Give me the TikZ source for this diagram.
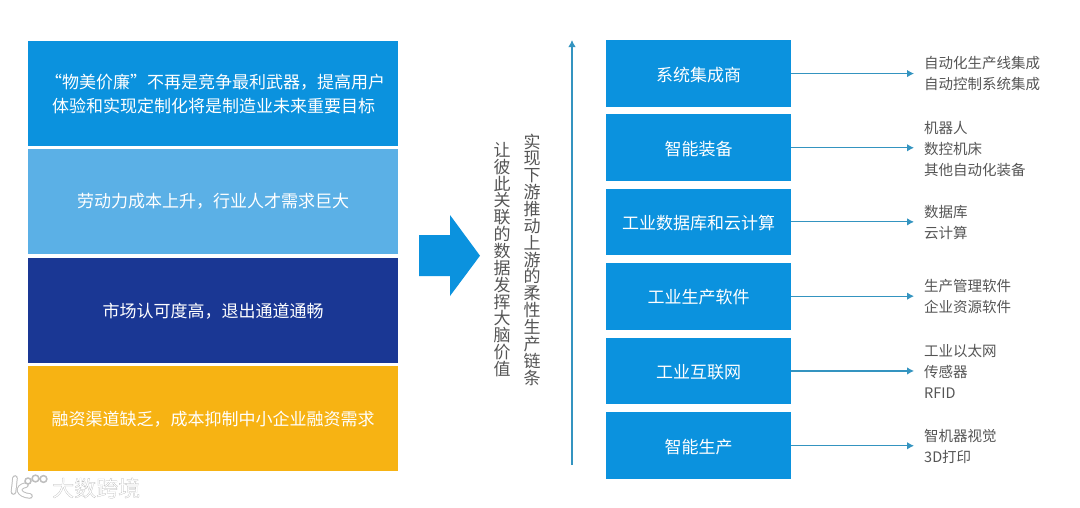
\documentclass[tikz,border=0pt]{standalone}
\usepackage{fontspec}
\usetikzlibrary{arrows.meta}
\setmainfont{Noto Sans CJK SC}
\newfontfamily\wmfont[FakeBold=0.8]{Noto Sans CJK SC}
\definecolor{cblue}{HTML}{0B92DE}
\definecolor{clight}{HTML}{5BB0E6}
\definecolor{cnavy}{HTML}{1A3794}
\definecolor{cyellow}{HTML}{F7B313}
\definecolor{cline}{HTML}{3494C0}
\definecolor{ctext}{HTML}{555555}
\definecolor{cmark}{HTML}{BEBEBE}
\tikzset{
  panel/.style={anchor=north west,minimum width=370pt,minimum height=105pt,inner sep=0pt,text=white,align=center,font=\fontsize{17}{24}\selectfont},
  stage/.style={anchor=north west,fill=cblue,minimum width=185pt,minimum height=66.7pt,inner sep=0pt,text=white,text height=16pt,text depth=0.5pt,font=\fontsize{17}{24}\selectfont},
  detail/.style={anchor=west,inner xsep=10pt,inner ysep=0pt,align=left,text=ctext,font=\fontsize{14.5}{21}\selectfont},
  stack/.style={align=center,text width=20pt,inner sep=0pt,text=ctext,font=\fontsize{17}{16.85}\selectfont},
  conn/.style={draw=cline,line width=1.1pt,-{Latex[length=7pt,width=7.5pt]}},
  logo/.style={draw=cmark,line width=1pt,double=white,double distance=3.6pt,line cap=round},
  logodot/.style={draw=cmark,line width=1.5pt,fill=white}
}
\begin{document}
\begin{tikzpicture}[x=1pt,y=-1pt]
\useasboundingbox (0,0) rectangle (1080,507);
% left panels
\node[panel,fill=cblue] (p1) at (28,40.7) {\phantom{x}};
\node[panel,fill=clight] (p2) at (28,149) {劳动力成本上升，行业人才需求巨大};
\node[panel,fill=cnavy] (p3) at (28,258) {市场认可度高，退出通道通畅};
\node[panel,fill=cyellow] (p4) at (28,366) {融资渠道缺乏，成本抑制中小企业融资需求};
\node[anchor=west,inner sep=0pt,text=white,align=left,font=\fontsize{17}{24}\selectfont] (p1t) at (52,94.5) {\hspace*{-7pt}“物美价廉”不再是竞争最利武器，提高用户\\体验和实现定制化将是制造业未来重要目标};
% block arrow
\fill[cblue] (419,235) -- (450,235) -- (450,215) -- (480,255.7) -- (450,296) -- (450,276) -- (419,276) -- cycle;
% vertical texts
\node[stack] (v1) at (502,259.5) {让\\彼\\此\\关\\联\\的\\数\\据\\发\\挥\\大\\脑\\价\\值};
\node[stack] (v2) at (532,259.5) {实\\现\\下\\游\\推\\动\\上\\游\\的\\柔\\性\\生\\产\\链\\条};
% vertical axis
\coordinate (axb) at (572,465);
\coordinate (axt) at (572,40);
\draw[conn] (axb) -- (axt);
% stages
\node[stage] (s1) at (606,40) {系统集成商};
\node[stage] (s2) at (606,114.2) {智能装备};
\node[stage] (s3) at (606,188.3) {工业数据库和云计算};
\node[stage] (s4) at (606,262.6) {工业生产软件};
\node[stage] (s5) at (606,337.4) {工业互联网};
\node[stage] (s6) at (606,412.2) {智能生产};
% details
\node[detail] (d1) at (914,74) {自动化生产线集成\\自动控制系统集成};
\node[detail] (d2) at (914,149.5) {机器人\\数控机床\\其他自动化装备};
\node[detail] (d3) at (914,222.5) {数据库\\云计算};
\node[detail] (d4) at (914,296.5) {生产管理软件\\企业资源软件};
\node[detail] (d5) at (914,371) {工业以太网\\传感器\\RFID};
\node[detail] (d6) at (914,446.5) {智机器视觉\\3D打印};
\foreach \i in {1,...,6} \draw[conn] (s\i.east) -- (s\i.east -| d\i.west);
% watermark
\draw[logo] (15,478) -- (13.5,492);
\draw[logo] (26,485) .. controls (16,487) and (18,495) .. (30,496);
\draw[logodot] (28,481) circle (3pt) (35.5,478.5) circle (3.4pt) (43.5,479) circle (3.4pt);
\node[anchor=west,inner sep=0pt,text=white,font=\fontsize{22}{24}\selectfont] (wm) at (52,488) {\special{pdf:code 0.70 G}\wmfont 大数跨境};
\end{tikzpicture}
\end{document}
